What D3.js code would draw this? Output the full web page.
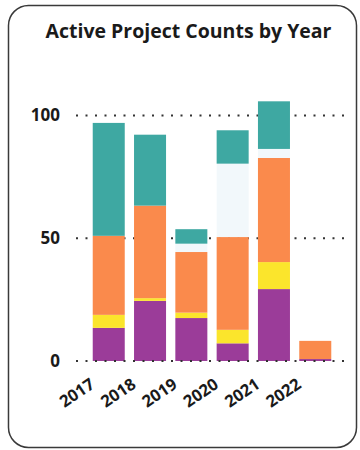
<!DOCTYPE html>
<html>
<head>
<meta charset="utf-8">
<script src="https://cdn.jsdelivr.net/npm/d3@7"></script>
<style>
  html, body { margin: 0; padding: 0; background: #ffffff; }
  svg { display: block; }
  text { font-family: "Open Sans", "Noto Sans", sans-serif; }
</style>
</head>
<body>
<svg id="chart" width="360" height="450"></svg>
<script>
const years = ["2017", "2018", "2019", "2020", "2021", "2022"];
const seriesKeys = ["purple", "yellow", "orange", "light", "teal"];
const purpleValues = [13.5, 24.5, 17.5, 7.2, 29.3, 0.8];
const yellowValues = [5.3, 1.1, 2.2, 5.5, 11.0, 0];
const orangeValues = [32.2, 37.7, 24.7, 37.8, 42.4, 7.4];
const lightValues  = [0, 0, 3.4, 29.9, 3.7, 0];
const tealValues   = [46.0, 28.9, 5.9, 13.6, 19.4, 0];
const yTicks = [0, 50, 100];
const colors = ["#9b3c99", "#fbe52c", "#fa8a4c", "#f2f8fb", "#3ea8a2"];

const data = years.map((yr, i) => ({
  year: yr,
  purple: purpleValues[i],
  yellow: yellowValues[i],
  orange: orangeValues[i],
  light: lightValues[i],
  teal: tealValues[i]
}));

const svg = d3.select("#chart");

// card
svg.append("rect")
  .attr("x", 8.5).attr("y", 5.5)
  .attr("width", 348).attr("height", 442)
  .attr("rx", 20).attr("ry", 20)
  .attr("fill", "#ffffff")
  .attr("stroke", "#3a3a3a")
  .attr("stroke-width", 1.5);

// title
svg.append("text")
  .attr("x", 188.5).attr("y", 38)
  .attr("text-anchor", "middle")
  .attr("font-size", 19.5)
  .attr("font-weight", 700)
  .attr("fill", "#1a1a1a")
  .text("Active Project Counts by Year");

const x = d3.scaleBand()
  .domain(years)
  .range([76, 348])
  .paddingInner(0.225)
  .paddingOuter(0.405);

const y = d3.scaleLinear()
  .domain([0, 110])
  .range([361, 91]);

const color = d3.scaleOrdinal().domain(seriesKeys).range(colors);

// gridlines (behind bars)
const gridG = svg.append("g");
gridG.selectAll("line")
  .data(yTicks.filter(t => t !== 0))
  .join("line")
  .attr("x1", 76).attr("x2", 350)
  .attr("y1", d => y(d)).attr("y2", d => y(d))
  .attr("stroke", "#333")
  .attr("stroke-width", 2)
  .attr("stroke-dasharray", "2,7.5");

// bars
const stack = d3.stack().keys(seriesKeys);
const layers = stack(data);
svg.append("g")
  .selectAll("g")
  .data(layers)
  .join("g")
  .attr("fill", d => color(d.key))
  .selectAll("rect")
  .data(d => d)
  .join("rect")
  .attr("x", d => x(d.data.year))
  .attr("width", x.bandwidth())
  .attr("y", d => y(d[1]))
  .attr("height", d => Math.max(0, y(d[0]) - y(d[1])));

// baseline dotted line on top
svg.append("line")
  .attr("x1", 76).attr("x2", 350)
  .attr("y1", y(0)).attr("y2", y(0))
  .attr("stroke", "#333")
  .attr("stroke-width", 2)
  .attr("stroke-dasharray", "2,7.5");

// y axis labels
const yAxis = d3.axisLeft(y).tickValues(yTicks).tickSize(0).tickPadding(0);
const yG = svg.append("g").attr("transform", "translate(60,0)").call(yAxis);
yG.select(".domain").remove();
yG.selectAll("text")
  .attr("font-family", "'Open Sans', sans-serif")
  .attr("font-size", 17)
  .attr("font-weight", 700)
  .attr("fill", "#1a1a1a");

// x axis labels
const xAxis = d3.axisBottom(x).tickSize(0).tickPadding(0);
const xG = svg.append("g").attr("transform", "translate(0,368)").call(xAxis);
xG.select(".domain").remove();
xG.selectAll("text")
  .attr("font-family", "'Open Sans', sans-serif")
  .attr("font-size", 16.5)
  .attr("font-weight", 700)
  .attr("fill", "#1a1a1a")
  .attr("text-anchor", "end")
  .attr("dy", "0")
  .attr("transform", "translate(-13,19) rotate(-34)");
</script>
</body>
</html>
